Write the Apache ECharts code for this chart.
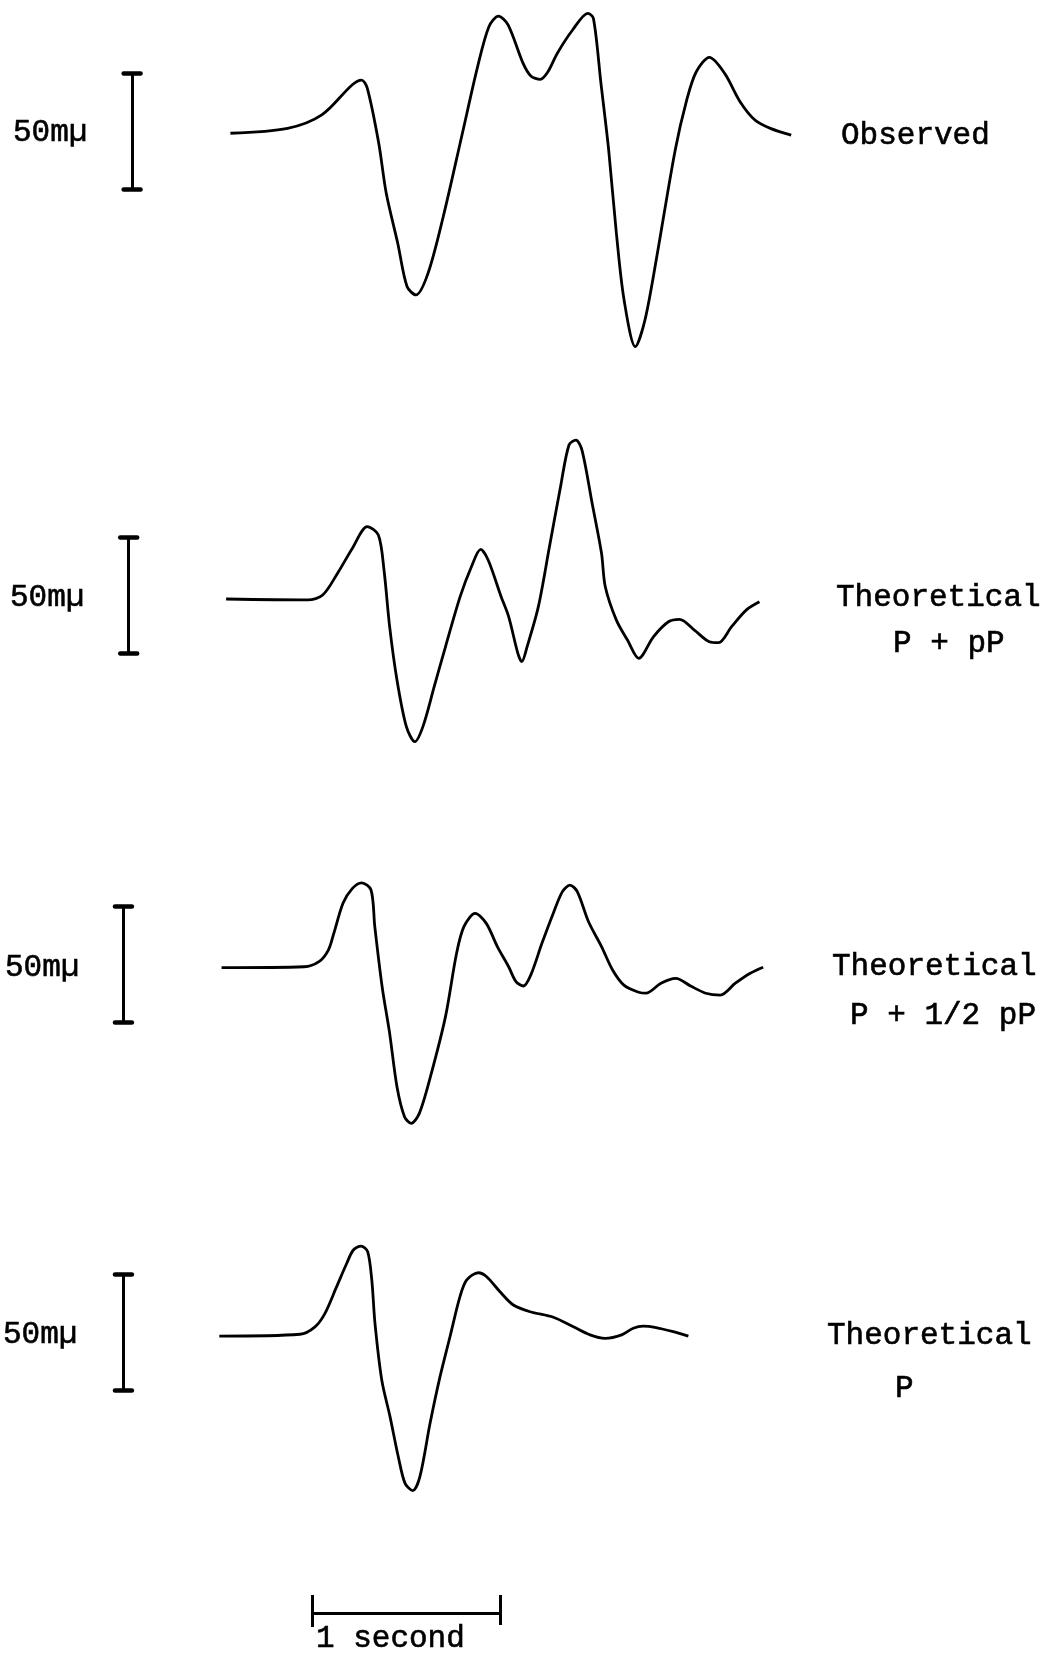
<!DOCTYPE html>
<html><head><meta charset="utf-8">
<script src="https://cdn.jsdelivr.net/npm/echarts@6/dist/echarts.min.js"></script>
<style>html,body{margin:0;padding:0;background:#fff}#c{width:1049px;height:1655px}</style>
</head><body><div id="c"></div>
<script>
// ---- data: time in seconds, amplitude in mµ ----
const observedTime = [-0.434,-0.130,0.052,0.213,0.264,0.294,0.355,0.395,0.456,0.506,0.553,0.617,0.698,0.800,0.881,0.941,0.992,1.043,1.123,1.164,1.214,1.255,1.305,1.386,1.467,1.497,1.537,1.578,1.619,1.660,1.720,1.771,1.831,1.932,1.993,2.044,2.114,2.195,2.277,2.356,2.438,2.549];
const observedAmp  = [-0.1,2.0,7.8,20.7,22.8,19.3,-4.4,-26.0,-47.5,-66.3,-69.8,-60.5,-36.1,-0.1,28.6,45.8,50.4,46.6,30.0,24.6,23.1,26.4,34.4,44.4,51.6,49.4,21.4,-7.3,-43.2,-72.0,-92.1,-80.6,-54.7,-7.3,14.2,26.4,32.6,25.7,13.5,5.6,2.0,-0.9];

const pPlusPPTime = [-0.457,-0.022,0.057,0.136,0.215,0.294,0.353,0.383,0.413,0.452,0.502,0.547,0.590,0.650,0.710,0.788,0.848,0.897,0.937,1.006,1.046,1.095,1.116,1.144,1.204,1.263,1.322,1.367,1.404,1.436,1.490,1.540,1.560,1.619,1.678,1.738,1.816,1.896,1.955,2.034,2.113,2.163,2.232,2.311,2.380];
const pPlusPPAmp  = [0,-0.4,1.7,11.1,21.9,31.2,27.6,12.5,-11.9,-34.9,-55.0,-61.5,-55.0,-37.8,-20.6,1.0,13.9,21.4,16.8,1.0,-7.6,-23.4,-27.0,-20.6,-3.3,22.5,48.4,66.4,68.5,64.2,41.3,19.7,5.3,-9.1,-17.7,-25.6,-16.3,-9.8,-8.8,-13.4,-18.4,-18.8,-11.9,-4.7,-1.2];

const pPlusHalfPPTime = [-0.481,-0.042,0.037,0.087,0.116,0.165,0.215,0.264,0.314,0.334,0.373,0.413,0.452,0.492,0.528,0.571,0.630,0.710,0.769,0.808,0.868,0.927,0.986,1.046,1.085,1.124,1.164,1.223,1.283,1.332,1.372,1.411,1.471,1.540,1.599,1.659,1.738,1.777,1.856,1.935,2.014,2.094,2.172,2.252,2.331,2.400];
const pPlusHalfPPAmp  = [-0.3,0.1,2.3,7.3,14.5,27.5,33.9,36.3,33.2,17.4,-8.5,-28.6,-51.6,-64.5,-67.4,-63.1,-47.3,-21.4,5.9,17.4,23.1,18.8,8.8,0.1,-6.3,-8.2,-3.4,10.2,23.1,32.5,35.3,32.5,19.5,8.8,-1.3,-7.8,-10.9,-11.3,-7.0,-4.9,-8.2,-11.3,-12.1,-7.0,-2.7,-0.1];

const pOnlyTime = [-0.493,-0.064,0.016,0.069,0.131,0.185,0.220,0.261,0.296,0.318,0.335,0.371,0.415,0.459,0.495,0.536,0.574,0.628,0.681,0.734,0.787,0.823,0.885,0.929,1.000,1.071,1.160,1.284,1.390,1.479,1.559,1.647,1.709,1.762,1.824,1.922,2.002];
const pOnlyAmp  = [-0.9,-0.1,3.1,8.9,20.4,30.5,36.2,37.9,35.5,23.3,4.6,-19.8,-35.6,-52.9,-64.4,-67.5,-61.5,-38.5,-18.4,-1.2,16.1,23.3,26.4,24.7,18.2,12.5,9.6,7.2,3.1,-0.4,-1.9,-0.4,2.5,3.4,2.9,1.0,-0.9];

const scaleBarMu = 50;          // amplitude scale bar, mµ
const scaleBarLabel = "50mµ";
const timeBarSeconds = 1;       // time scale bar
const timeBarLabel = "1 second";
const panelTitles = [["Observed"], ["Theoretical", "P + pP"], ["Theoretical", "P + 1/2 pP"], ["Theoretical", "P"]];

// ---- layout (pixels / styles only) ----
const PX_PER_SEC = 188, PX_PER_MU = 2.32;
const X_MIN = -1.5, X_MAX = 3.9, GRID_LEFT = 30;
const baselines = [133, 599, 967, 1334];
const yRanges = [[-100, 55], [-100, 75], [-100, 75], [-100, 75]];
const barT = [-0.957, -0.975, -1.003, -1.003];
const barCenter = [0.6, 1.7, 1.3, 0.9];
const unitLabelPos = [[13, 133], [10, 598], [5, 968], [3, 1335]];
const titlePos = [[[841, 136]], [[836, 598], [893, 644]], [[832, 967], [850, 1016]], [[827, 1336], [895, 1389]]];
const FONT = '"Liberation Mono", "Courier New", monospace';
const FS = 31;
const textStyle = (text) => ({text, fontSize: FS, fontFamily: FONT, fill: '#000',
  stroke: '#000', lineWidth: 0.6,
  verticalAlign: 'middle', textVerticalAlign: 'middle'});

const traces = [
  [observedTime, observedAmp],
  [pPlusPPTime, pPlusPPAmp],
  [pPlusHalfPPTime, pPlusHalfPPAmp],
  [pOnlyTime, pOnlyAmp]
];

const grid = [], xAxis = [], yAxis = [], series = [], graphic = [];
traces.forEach((tr, i) => {
  const [ymin, ymax] = yRanges[i];
  grid.push({left: GRID_LEFT, width: (X_MAX - X_MIN) * PX_PER_SEC, top: baselines[i] - ymax * PX_PER_MU, height: (ymax - ymin) * PX_PER_MU});
  xAxis.push({type: 'value', gridIndex: i, min: X_MIN, max: X_MAX, show: false});
  yAxis.push({type: 'value', gridIndex: i, min: ymin, max: ymax, show: false});
  series.push({
    type: 'line', xAxisIndex: i, yAxisIndex: i, showSymbol: false, smooth: 0.3, clip: false,
    lineStyle: {color: '#000', width: 2.8}, data: tr[0].map((t, k) => [t, tr[1][k]]), animation: false
  });
  const bx = barT[i], c = barCenter[i], h = scaleBarMu / 2, d = 0.045;
  series.push({
    type: 'lines', coordinateSystem: 'cartesian2d', xAxisIndex: i, yAxisIndex: i, animation: false,
    lineStyle: {color: '#000', width: 3, opacity: 1},
    data: [{coords: [[bx, c - h], [bx, c + h]]}]
  });
  series.push({
    type: 'lines', coordinateSystem: 'cartesian2d', xAxisIndex: i, yAxisIndex: i, animation: false,
    lineStyle: {color: '#000', width: 4.5, opacity: 1, cap: 'round'},
    data: [{coords: [[bx - d, c + h], [bx + d, c + h]]}, {coords: [[bx - d, c - h], [bx + d, c - h]]}]
  });
  graphic.push({type: 'text', x: unitLabelPos[i][0], y: unitLabelPos[i][1], style: textStyle(scaleBarLabel)});
  panelTitles[i].forEach((line, j) => {
    graphic.push({type: 'text', x: titlePos[i][j][0], y: titlePos[i][j][1], style: textStyle(line)});
  });
});

// time scale bar grid
const gi = traces.length;
grid.push({left: GRID_LEFT, width: (X_MAX - X_MIN) * PX_PER_SEC, top: 1593, height: 40});
xAxis.push({type: 'value', gridIndex: gi, min: X_MIN, max: X_MAX, show: false});
yAxis.push({type: 'value', gridIndex: gi, min: -1, max: 1, show: false});
series.push({
  type: 'lines', coordinateSystem: 'cartesian2d', xAxisIndex: gi, yAxisIndex: gi, animation: false,
  lineStyle: {color: '#000', width: 3, opacity: 1},
  data: [
    {coords: [[0, 0], [timeBarSeconds, 0]]},
    {coords: [[0, 0.9], [0, -0.7]]},
    {coords: [[timeBarSeconds, 0.9], [timeBarSeconds, -0.6]]}
  ]
});
graphic.push({type: 'text', x: 316, y: 1639, style: textStyle(timeBarLabel)});

const chart = echarts.init(document.getElementById('c'), null, {renderer: 'canvas'});
chart.setOption({backgroundColor: '#fff', animation: false, grid, xAxis, yAxis, series, graphic});
</script>
</body></html>
